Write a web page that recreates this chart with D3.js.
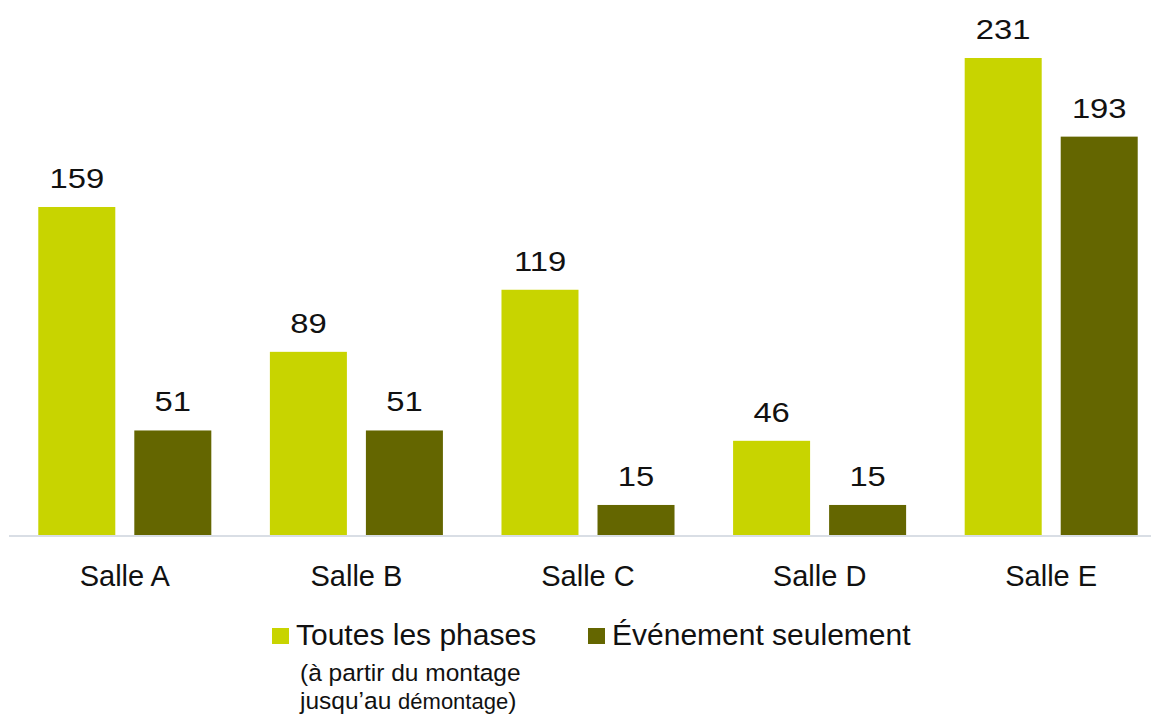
<!DOCTYPE html>
<html>
<head>
<meta charset="utf-8">
<script src="https://cdn.jsdelivr.net/npm/d3@7"></script>
<style>
  body { margin: 0; background: #fff; }
  text { font-family: "Liberation Sans", Arial, sans-serif; fill: #111; }
</style>
</head>
<body>
<script>
'use strict';

// chart data
const salles = ["Salle A", "Salle B", "Salle C", "Salle D", "Salle E"];
const series = ["Toutes les phases", "Événement seulement"];
const toutesPhases = [159, 89, 119, 46, 231];
const evenementSeul = [51, 51, 15, 15, 193];
const colors = ["#c8d400", "#646600"];

(function() {
  const width = 1151, height = 717;
  const svg = d3.select('body').append('svg')
    .attr('width', width)
    .attr('height', height);

  const baseY = 536;

  // group scale, one band per salle
  const x = d3.scaleBand()
    .domain(salles)
    .range([9, 1167]);

  // bar scale inside each group
  const xSub = d3.scaleBand()
    .domain(series)
    .range([0, x.bandwidth()])
    .paddingInner(0.198)
    .paddingOuter(0.305);

  const y = d3.scaleLinear()
    .domain([0, 231])
    .range([baseY, 58]);

  const rows = salles.map((s, i) => ({
    salle: s,
    vals: [toutesPhases[i], evenementSeul[i]]
  }));

  const groups = svg.selectAll('.group')
    .data(rows)
    .enter()
    .append('g')
    .attr('transform', d => 'translate(' + x(d.salle) + ',0)');

  const bars = groups.selectAll('rect')
    .data(d => d.vals.map((v, j) => ({ key: series[j], v: v, j: j })))
    .enter();

  bars.append('rect')
    .attr('x', d => xSub(d.key))
    .attr('y', d => y(d.v))
    .attr('width', xSub.bandwidth())
    .attr('height', d => baseY - y(d.v))
    .attr('fill', d => colors[d.j]);

  // value labels, digits a bit wider than the plain font
  bars.append('text')
    .attr('transform', d => 'translate(' + (xSub(d.key) + xSub.bandwidth() / 2) + ',' + (y(d.v) - 19) + ') scale(1.17,1)')
    .attr('text-anchor', 'middle')
    .style('font-size', '28px')
    .text(d => d.v);

  // baseline axis
  const xAxis = d3.axisBottom(x).tickSize(0);
  const axisG = svg.append('g')
    .attr('transform', 'translate(0,' + baseY + ')')
    .call(xAxis);
  axisG.select('.domain')
    .attr('d', 'M9,0H' + width)
    .attr('stroke', '#d9dee5')
    .attr('stroke-width', 2);
  axisG.selectAll('.tick text')
    .attr('dy', 0)
    .attr('y', 50)
    .style('font-size', '29px')
    .style('font-family', '"Liberation Sans", Arial, sans-serif')
    .attr('fill', '#111');

  // legend
  const legendX = [272, 588];
  const legend = svg.selectAll('.legend')
    .data(series)
    .enter()
    .append('g')
    .attr('transform', (d, i) => 'translate(' + legendX[i] + ',628)');

  legend.append('rect')
    .attr('width', 17)
    .attr('height', 16)
    .attr('fill', (d, i) => colors[i]);

  legend.append('text')
    .attr('x', 24)
    .attr('y', 17)
    .style('font-size', '30px')
    .text(d => d);

  // note under first legend entry
  const note = svg.append('text')
    .attr('x', 300)
    .attr('y', 681)
    .style('font-size', '24.5px');
  note.append('tspan').text('(à partir du montage');
  const line2 = svg.append('text')
    .attr('x', 300)
    .attr('y', 709)
    .style('font-size', '24.5px');
  line2.append('tspan').text('jusqu’au ');
  line2.append('tspan').style('font-size', '22px').text('démontage');
  line2.append('tspan').text(')');
})();
</script>
</body>
</html>
